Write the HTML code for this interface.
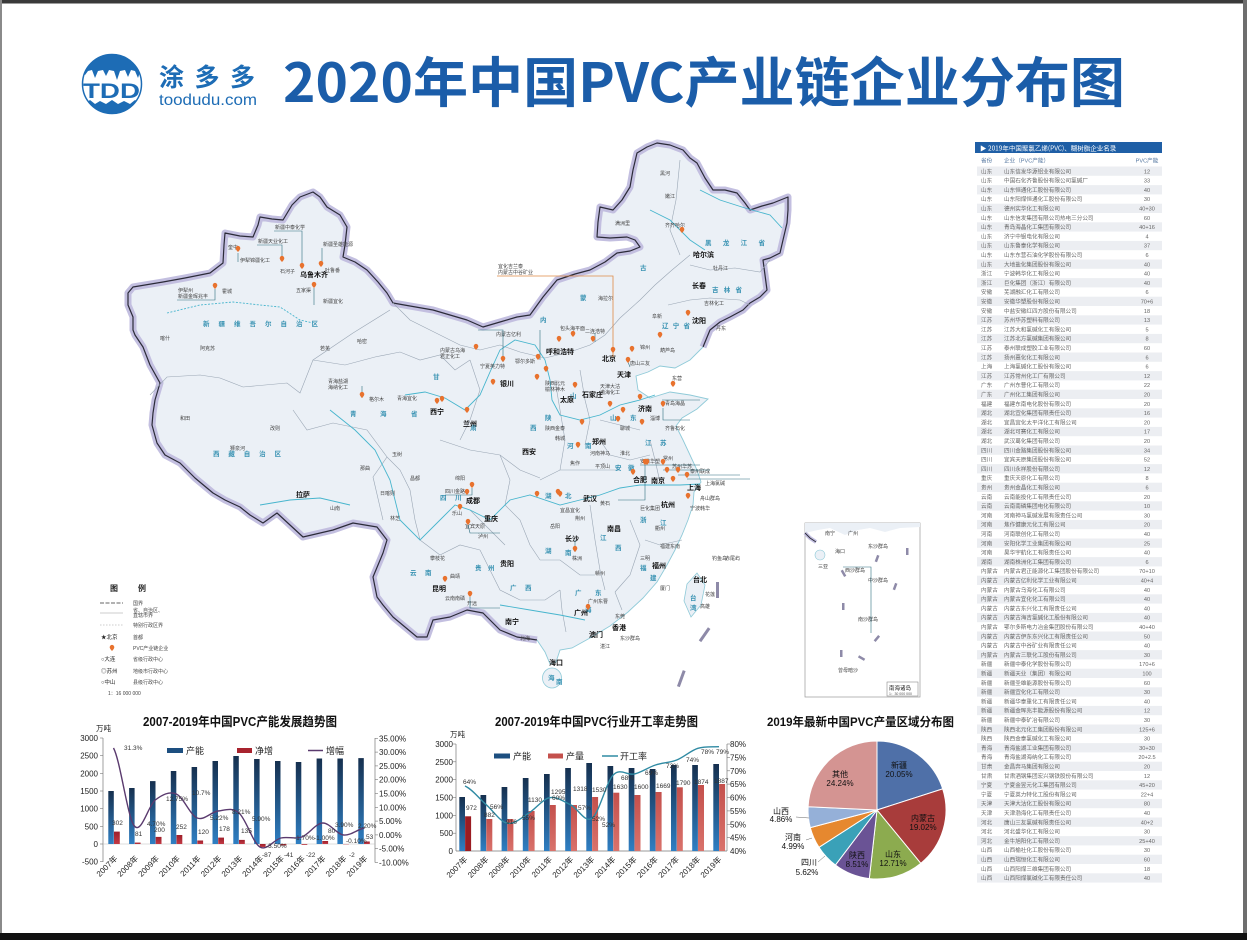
<!DOCTYPE html>
<html><head><meta charset="utf-8"><style>
html,body{margin:0;padding:0;background:#fff;}
body{width:1247px;height:940px;overflow:hidden;}
svg{display:block;}
text{font-family:"Liberation Sans","Noto Sans CJK SC",sans-serif;}
.cj{font-family:"Noto Sans CJK SC","Liberation Sans",sans-serif;}
.ax{font-size:8px;fill:#222;}
.dl{font-size:6.5px;fill:#333;}
.ml{font-size:5px;fill:#444;}
.cap{font-size:7px;fill:#111;font-weight:bold;}
.pv{font-size:6.5px;fill:#3a93b3;font-weight:bold;}
.tb{font-size:5.6px;fill:#666;}
</style></head><body>
<svg width="1247" height="940" viewBox="0 0 1247 940" xmlns="http://www.w3.org/2000/svg">
<defs>
<linearGradient id="gb" x1="0" y1="0" x2="0" y2="1"><stop offset="0" stop-color="#16304f"/><stop offset="1" stop-color="#2f7fc3"/></linearGradient>
<linearGradient id="gr" x1="0" y1="0" x2="0" y2="1"><stop offset="0" stop-color="#9e1f2a"/><stop offset="1" stop-color="#c23a45"/></linearGradient>
<linearGradient id="gs" x1="0" y1="0" x2="0" y2="1"><stop offset="0" stop-color="#c4504c"/><stop offset="1" stop-color="#d9726b"/></linearGradient>
<path id="pin" d="M0,0 C-1.6,-1.8 -2.3,-2.8 -2.3,-3.8 A2.3,2.3 0 1 1 2.3,-3.8 C2.3,-2.8 1.6,-1.8 0,0Z" fill="#e8722e"/>
<clipPath id="lc"><circle cx="112" cy="84" r="30"/></clipPath>
</defs>

<!-- frame -->
<rect x="0" y="0" width="1247" height="940" fill="#fff"/>
<rect x="0" y="0" width="1247" height="3.5" fill="#3a3a3a"/>
<rect x="0" y="0" width="2" height="940" fill="#8a8a8a"/>
<rect x="1243" y="0" width="4" height="940" fill="#6e6e6e"/>
<rect x="0" y="933" width="1247" height="7" fill="#111"/>

<!-- logo -->
<g clip-path="url(#lc)">
<rect x="80" y="52" width="64" height="66" fill="#fff"/>
<path d="M80,52 H144 V70 L140,72 L138,78 L135,71 L131,70 L128,77 L125,70 L120,71 L117,80 L114,71 L109,70 L106,76 L103,70 L98,71 L95,78 L92,70 L88,71 L85,75 L80,70Z" fill="#1d6cb5"/>
<path d="M80,101 L86,103 L90,100 L95,104 L100,101 L106,104 L112,100 L118,104 L124,101 L130,104 L135,100 L140,103 L144,101 V118 H80Z" fill="#1d6cb5"/>
</g>
<circle cx="112" cy="84" r="29.5" fill="none" stroke="#1d6cb5" stroke-width="1.5"/>
<text x="83" y="98" font-size="21" font-weight="bold" fill="#1d6cb5" textLength="57" lengthAdjust="spacingAndGlyphs">TDD</text>
<text x="159" y="86" class="cj" font-size="25" font-weight="bold" fill="#1d6cb5" textLength="96" lengthAdjust="spacing">涂多多</text>
<text x="159" y="105" font-size="15.5" fill="#1d6cb5" textLength="98" lengthAdjust="spacingAndGlyphs">toodudu.com</text>

<!-- title -->
<text x="283" y="102" font-size="54" font-weight="bold" fill="#1b5da9" textLength="842" lengthAdjust="spacingAndGlyphs" style="font-family:'Noto Sans CJK SC','Liberation Sans',sans-serif">2020年中国PVC产业链企业分布图</text>

<!-- ================= MAP ================= -->
<g>
<polygon points="537,640 517,637 500,630 483,613 467,610 450,617 433,620 427,637 417,637 405,627 393,617 383,605 377,597 373,577 378,565 383,553 387,540 377,527 353,523 333,530 303,537 290,525 277,513 263,523 250,515 240,507 225,500 213,493 195,478 180,463 165,455 157,443 152,425 153,413 155,400 160,383 150,365 143,347 135,335 133,330 133,317 128,305 128,293 133,287 163,282 185,278 210,273 223,263 224,245 225,233 240,236 253,237 258,225 260,217 272,219 283,220 292,205 300,197 313,192 320,197 327,207 340,215 347,227 345,245 343,257 355,262 367,270 378,282 387,293 393,303 410,306 433,310 450,315 467,320 483,327 500,322 517,317 530,315 543,297 557,280 575,274 590,270 605,262 617,253 630,251 640,247 635,240 627,237 610,238 597,237 598,222 600,207 613,210 622,200 630,187 633,170 637,153 647,147 657,143 670,145 683,150 690,158 697,163 705,178 713,190 725,190 737,193 745,203 750,210 762,206 773,203 788,197 788,210 787,223 783,240 780,253 770,258 763,260 765,275 767,290 760,297 750,303 743,310 730,317 720,322 710,330 703,347 690,360 675,368 660,366 648,372 636,376 638,390 650,398 670,392 690,395 708,399 697,409 682,418 676,426 683,440 690,455 697,470 701,482 694,492 693,505 688,520 682,535 675,550 667,565 657,582 643,598 628,612 610,626 590,638 572,648 560,650 556,662 550,664 545,652 537,640" fill="#ebf0f6"/>
<polyline fill="none" stroke="#c3bfe0" stroke-width="7" stroke-linejoin="round" points="537,640 517,637 500,630 483,613 467,610 450,617 433,620 427,637 417,637 405,627 393,617 383,605 377,597 373,577 378,565 383,553 387,540 377,527 353,523 333,530 303,537 290,525 277,513 263,523 250,515 240,507 225,500 213,493 195,478 180,463 165,455 157,443 152,425 153,413 155,400 160,383 150,365 143,347 135,335 133,330 133,317 128,305 128,293 133,287 163,282 185,278 210,273 223,263 224,245 225,233 240,236 253,237 258,225 260,217 272,219 283,220 292,205 300,197 313,192 320,197 327,207 340,215 347,227 345,245 343,257 355,262 367,270 378,282 387,293 393,303 410,306 433,310 450,315 467,320 483,327 500,322 517,317 530,315 543,297 557,280 575,274 590,270 605,262 617,253 630,251 640,247 635,240 627,237 610,238 597,237 598,222 600,207 613,210 622,200 630,187 633,170 637,153 647,147 657,143 670,145 683,150 690,158 697,163 705,178 713,190 725,190 737,193 745,203 750,210 762,206 773,203 788,197 788,210 787,223 783,240 780,253 770,258 763,260 765,275 767,290 760,297 750,303 743,310 730,317 720,322 710,330 703,347"/>
<polyline fill="none" stroke="#2b2b38" stroke-width="1.2" stroke-linejoin="round" points="537,640 517,637 500,630 483,613 467,610 450,617 433,620 427,637 417,637 405,627 393,617 383,605 377,597 373,577 378,565 383,553 387,540 377,527 353,523 333,530 303,537 290,525 277,513 263,523 250,515 240,507 225,500 213,493 195,478 180,463 165,455 157,443 152,425 153,413 155,400 160,383 150,365 143,347 135,335 133,330 133,317 128,305 128,293 133,287 163,282 185,278 210,273 223,263 224,245 225,233 240,236 253,237 258,225 260,217 272,219 283,220 292,205 300,197 313,192 320,197 327,207 340,215 347,227 345,245 343,257 355,262 367,270 378,282 387,293 393,303 410,306 433,310 450,315 467,320 483,327 500,322 517,317 530,315 543,297 557,280 575,274 590,270 605,262 617,253 630,251 640,247 635,240 627,237 610,238 597,237 598,222 600,207 613,210 622,200 630,187 633,170 637,153 647,147 657,143 670,145 683,150 690,158 697,163 705,178 713,190 725,190 737,193 745,203 750,210 762,206 773,203 788,197 788,210 787,223 783,240 780,253 770,258 763,260 765,275 767,290 760,297 750,303 743,310 730,317 720,322 710,330 703,347"/>
<polyline fill="none" stroke="#8fcad8" stroke-width="0.9" points="703,347 690,360 675,368 660,366 648,372 636,376 638,390 650,398 670,392 690,395 708,399 697,409 682,418 676,426 683,440 690,455 697,470 701,482 694,492 693,505 688,520 682,535 675,550 667,565 657,582 643,598 628,612 610,626 590,638 572,648 560,650 556,662 550,664 545,652 537,640"/>
<!-- islands -->
<ellipse cx="552" cy="678" rx="9.5" ry="10" fill="#ebf0f6" stroke="#8fcad8" stroke-width="0.8"/>
<polygon points="697,573 705,585 701,605 691,617 684,601 687,584" fill="#ebf0f6" stroke="#8fcad8" stroke-width="0.8"/>
<!-- SCS dashes -->
<g fill="#8e8aa8"><rect x="716" y="582" width="3" height="16"/><rect x="703" y="627" width="3" height="16" transform="rotate(35 705 635)"/><rect x="680" y="670" width="3" height="17" transform="rotate(20 681 678)"/></g>

<!-- provincial borders -->
<g fill="none" stroke="#9aa6b4" stroke-width="0.6">
<polyline points="150,395 167,377 200,375 220,378 243,387 287,383 300,393 313,360 353,333 390,310"/>
<polyline points="293,410 307,430 333,423 367,430 387,457 373,477 383,520"/>
<polyline points="313,360 345,365 375,357 400,352 420,360 440,355 455,370 470,360"/>
<polyline points="393,303 410,320 430,330 460,345 480,350 500,345"/>
<polyline points="500,345 520,352 545,358 570,352 590,345 605,335 620,318 640,300 655,285 672,270 690,255"/>
<polyline points="690,265 710,270 735,268 760,272 770,260"/>
<polyline points="668,305 690,300 710,298 740,300 750,305"/>
<polyline points="680,160 676,200 670,230 680,255"/>
<polyline points="387,457 400,470 410,490 415,520 420,540"/>
<polyline points="440,440 470,450 500,455 520,470 540,478"/>
<polyline points="420,540 440,555 460,545 480,550"/>
<polyline points="480,550 490,570 500,590 520,600 545,600 560,590"/>
<polyline points="560,590 562,610 566,632"/>
<polyline points="590,505 595,540 600,570 605,590"/>
<polyline points="540,480 560,470 590,470 620,470"/>
<polyline points="600,420 620,425 640,430"/>
<polyline points="650,440 655,460 660,482"/>
<polyline points="645,540 660,545 682,540"/>
<polyline points="630,520 640,545 630,575 615,592"/>
<polyline points="555,380 560,410 565,440 560,470"/>
<polyline points="580,370 585,400 590,420 585,445"/>
<polyline points="470,360 480,390 470,420 460,440"/>
<polyline points="500,455 510,480 505,505 520,520 530,545 540,560"/>
<polyline points="540,560 560,560 580,575 595,575"/>
<polyline points="615,592 622,610"/>
<polyline points="600,440 610,455 630,460 650,455"/>
<polyline points="470,510 490,530 505,545"/>
</g>
<!-- rivers -->
<g fill="none" stroke="#47b5cd" stroke-width="0.9">
<polyline points="405,395 425,392 445,398 465,410 480,395 490,372 500,350 515,340 535,345 545,360 550,380 552,400 560,415 580,420 600,415 620,405 640,400 655,395"/>
<polyline points="330,410 355,430 375,450 390,480 400,520 420,540 440,520 455,505 470,510 490,520 510,500 530,495 560,505 580,500 600,495 620,488 640,485 660,485 680,485 700,484"/>
<polyline points="500,605 530,610 560,615 585,620"/>
<polyline points="700,190 720,200 745,208 770,215 782,228"/>
<polyline points="650,210 670,220 690,240 705,250"/>
<polyline points="260,505 290,500 320,498 350,505"/>
<polyline points="167,313 200,305 233,302 260,305 280,307 300,320 313,323" stroke-dasharray="2,1.5"/>
</g>
<!-- province names -->
<g class="pv">
<text x="203" y="326" textLength="115" lengthAdjust="spacing">新疆维吾尔自治区</text>
<text x="213" y="456" textLength="68" lengthAdjust="spacing">西藏自治区</text>
<text x="350" y="416">青</text><text x="380" y="416">海</text><text x="411" y="416">省</text>
<text x="433" y="379">甘</text><text x="470" y="430">肃</text>
<text x="540" y="322">内</text><text x="580" y="300">蒙</text><text x="640" y="270">古</text>
<text x="705" y="245" textLength="60" lengthAdjust="spacing">黑龙江省</text>
<text x="712" y="292" textLength="30" lengthAdjust="spacing">吉林省</text>
<text x="662" y="328" textLength="28" lengthAdjust="spacing">辽宁省</text>
<text x="610" y="420">山</text><text x="630" y="420">东</text>
<text x="567" y="448">河</text><text x="585" y="448">南</text>
<text x="545" y="420">陕</text><text x="530" y="430">西</text>
<text x="570" y="398">山</text>
<text x="440" y="500">四</text><text x="455" y="500">川</text>
<text x="545" y="498">湖</text><text x="565" y="498">北</text>
<text x="545" y="553">湖</text><text x="565" y="555">南</text>
<text x="600" y="540">江</text><text x="615" y="550">西</text>
<text x="640" y="522">浙</text><text x="660" y="525">江</text>
<text x="640" y="570">福</text><text x="650" y="580">建</text>
<text x="575" y="595">广</text><text x="595" y="595">东</text>
<text x="510" y="590">广</text><text x="525" y="590">西</text>
<text x="475" y="570">贵</text><text x="488" y="570">州</text>
<text x="410" y="575">云</text><text x="425" y="575">南</text>
<text x="645" y="445">江</text><text x="660" y="445">苏</text>
<text x="615" y="470">安</text><text x="628" y="470">徽</text>
<text x="690" y="600">台</text><text x="690" y="610">湾</text>
<text x="585" y="612">海</text><text x="548" y="680">海</text><text x="556" y="684">南</text>
</g>
<!-- capitals -->
<g class="cap">
<text x="300" y="277">乌鲁木齐</text>
<text x="296" y="497">拉萨</text>
<text x="430" y="414">西宁</text>
<text x="463" y="426">兰州</text>
<text x="500" y="386">银川</text>
<text x="546" y="354">呼和浩特</text>
<text x="602" y="361">北京</text>
<text x="617" y="377">天津</text>
<text x="582" y="397">石家庄</text>
<text x="592" y="444">郑州</text>
<text x="638" y="411">济南</text>
<text x="522" y="454">西安</text>
<text x="466" y="503">成都</text>
<text x="484" y="521">重庆</text>
<text x="500" y="566">贵阳</text>
<text x="432" y="591">昆明</text>
<text x="505" y="624">南宁</text>
<text x="574" y="615">广州</text>
<text x="565" y="541">长沙</text>
<text x="583" y="501">武汉</text>
<text x="607" y="531">南昌</text>
<text x="633" y="482">合肥</text>
<text x="651" y="483">南京</text>
<text x="687" y="490">上海</text>
<text x="661" y="507">杭州</text>
<text x="652" y="568">福州</text>
<text x="693" y="582">台北</text>
<text x="612" y="630">香港</text>
<text x="589" y="637">澳门</text>
<text x="549" y="665">海口</text>
<text x="692" y="323">沈阳</text>
<text x="692" y="288">长春</text>
<text x="693" y="257">哈尔滨</text>
<text x="560" y="402">太原</text>
</g>
<!-- small labels -->
<g class="ml">
<text x="228" y="249">奎屯</text><text x="240" y="262">伊犁锦疆化工</text>
<text x="275" y="229">新疆中泰化学</text><text x="258" y="243">新疆天业化工</text>
<text x="323" y="246">新疆圣雄能源</text><text x="325" y="272">吐鲁番</text>
<text x="280" y="273">石河子</text><text x="296" y="292">五家渠</text><text x="323" y="303">新疆宜化</text>
<text x="178" y="292">伊犁州</text><text x="178" y="298">新疆金晖兆丰</text><text x="222" y="293">霍城</text>
<text x="357" y="343">哈密</text><text x="328" y="383">青海盐湖</text><text x="328" y="389">海纳化工</text>
<text x="369" y="401">格尔木</text><text x="397" y="400">青海宜化</text>
<text x="440" y="352">内蒙古乌海</text><text x="440" y="358">君正化工</text>
<text x="496" y="336">内蒙古亿利</text><text x="480" y="368">宁夏英力特</text>
<text x="515" y="363">鄂尔多斯</text><text x="560" y="330">包头海平面</text>
<text x="585" y="333">二连浩特</text><text x="630" y="365">唐山三友</text>
<text x="640" y="349">锦州</text><text x="660" y="352">葫芦岛</text>
<text x="545" y="385">陕西北元</text><text x="545" y="391">榆林神木</text>
<text x="600" y="388">天津大沽</text><text x="600" y="394">渤海化工</text>
<text x="620" y="430">聊城</text><text x="650" y="420">淄博</text><text x="665" y="405">青岛海晶</text>
<text x="672" y="380">东营</text><text x="665" y="430">齐鲁石化</text>
<text x="545" y="430">陕西金泰</text><text x="555" y="440">韩城</text>
<text x="590" y="455">河南神马</text><text x="570" y="465">焦作</text><text x="595" y="468">平顶山</text>
<text x="620" y="455">淮北</text><text x="640" y="463">安徽华塑</text>
<text x="663" y="460">常州</text><text x="672" y="468">苏州华苏</text><text x="690" y="473">泰州联成</text>
<text x="705" y="485">上海氯碱</text><text x="700" y="500">舟山群岛</text><text x="690" y="510">宁波韩华</text>
<text x="640" y="510">巨化集团</text><text x="655" y="530">衢州</text>
<text x="560" y="512">宜昌宜化</text><text x="575" y="520">荆州</text><text x="600" y="505">黄石</text>
<text x="550" y="528">岳阳</text><text x="572" y="560">株洲</text><text x="595" y="575">赣州</text>
<text x="455" y="480">绵阳</text><text x="445" y="493">四川金路</text><text x="452" y="515">乐山</text>
<text x="465" y="528">宜宾天原</text><text x="478" y="538">泸州</text>
<text x="430" y="560">攀枝花</text><text x="450" y="578">曲靖</text><text x="445" y="600">云南南磷</text>
<text x="467" y="605">开远</text><text x="520" y="640">北海</text><text x="600" y="648">湛江</text>
<text x="615" y="618">东莞</text><text x="588" y="603">广州东曹</text>
<text x="660" y="590">厦门</text><text x="640" y="560">三明</text><text x="660" y="548">福建东南</text>
<text x="712" y="560">钓鱼岛</text><text x="725" y="560">赤尾屿</text>
<text x="700" y="608">高雄</text><text x="705" y="596">花莲</text>
<text x="620" y="640">东沙群岛</text>
<text x="380" y="495">日喀则</text><text x="330" y="510">山南</text><text x="360" y="470">那曲</text>
<text x="230" y="450">狮泉河</text><text x="270" y="430">改则</text><text x="180" y="420">和田</text>
<text x="160" y="340">喀什</text><text x="200" y="350">阿克苏</text><text x="320" y="350">若羌</text>
<text x="392" y="456">玉树</text><text x="410" y="480">昌都</text><text x="390" y="520">林芝</text>
<text x="665" y="227">齐齐哈尔</text><text x="660" y="175">黑河</text><text x="665" y="198">嫩江</text>
<text x="713" y="270">牡丹江</text><text x="704" y="305">吉林化工</text><text x="716" y="330">丹东</text>
<text x="652" y="318">阜新</text><text x="598" y="300">海拉尔</text><text x="615" y="225">满洲里</text>
<text x="498" y="268">宜化吉兰泰</text><text x="498" y="274">内蒙古中谷矿业</text>
</g>
<!-- leader lines -->
<g fill="none" stroke="#2f6f80" stroke-width="0.6">
<polyline points="274,231 302,231 302,268"/>
<polyline points="257,245 282,245 282,260"/>
<polyline points="322,248 322,265"/>
<polyline points="238,262 238,253"/>
<polyline points="177,300 215,300 215,289"/>
<polyline points="314,288 314,305"/>
<polyline points="362,386 362,398"/>
<polyline points="478,330 503,330 503,362"/>
<polyline points="540,330 540,360"/>
<polyline points="595,333 595,342"/>
<polyline points="630,367 628,362"/>
<polyline points="662,400 700,400"/>
<polyline points="663,408 663,420 690,420"/>
<polyline points="640,465 700,465"/>
<polyline points="663,470 710,470"/>
<polyline points="678,475 740,475"/>
<polyline points="687,479 750,479"/>
<polyline points="445,495 472,495 472,488"/>
<polyline points="468,525 470,533 500,533"/>
<polyline points="470,597 470,608 500,608"/>
<polyline points="588,604 588,610"/>
<polyline points="575,552 575,540"/>
<polyline points="645,465 645,500 618,500"/>
</g>
<polyline fill="none" stroke="#e08a45" stroke-width="0.8" points="497,276 613,276 613,357"/>
<!-- pins -->
<g>
<use href="#pin" x="238" y="252"/><use href="#pin" x="282" y="262"/><use href="#pin" x="302" y="269"/><use href="#pin" x="321" y="267"/><use href="#pin" x="314" y="288"/><use href="#pin" x="215" y="289"/><use href="#pin" x="362" y="398"/><use href="#pin" x="437" y="404"/>
<use href="#pin" x="682" y="233"/><use href="#pin" x="688" y="316"/><use href="#pin" x="660" y="338"/>
<use href="#pin" x="476" y="350"/><use href="#pin" x="503" y="362"/><use href="#pin" x="538" y="360"/><use href="#pin" x="559" y="342"/><use href="#pin" x="573" y="337"/><use href="#pin" x="593" y="342"/><use href="#pin" x="613" y="353"/><use href="#pin" x="628" y="363"/><use href="#pin" x="632" y="352"/>
<use href="#pin" x="493" y="385"/><use href="#pin" x="467" y="413"/><use href="#pin" x="442" y="402"/><use href="#pin" x="546" y="372"/><use href="#pin" x="537" y="380"/><use href="#pin" x="575" y="388"/><use href="#pin" x="610" y="407"/><use href="#pin" x="618" y="422"/><use href="#pin" x="582" y="425"/><use href="#pin" x="623" y="413"/><use href="#pin" x="640" y="400"/><use href="#pin" x="663" y="407"/><use href="#pin" x="673" y="387"/><use href="#pin" x="642" y="425"/><use href="#pin" x="578" y="448"/><use href="#pin" x="647" y="465"/><use href="#pin" x="663" y="465"/><use href="#pin" x="678" y="473"/><use href="#pin" x="633" y="475"/><use href="#pin" x="560" y="497"/><use href="#pin" x="537" y="497"/>
<use href="#pin" x="472" y="488"/><use href="#pin" x="467" y="495"/><use href="#pin" x="460" y="510"/><use href="#pin" x="468" y="525"/><use href="#pin" x="445" y="582"/><use href="#pin" x="470" y="597"/>
<use href="#pin" x="575" y="552"/><use href="#pin" x="558" y="495"/><use href="#pin" x="588" y="610"/><use href="#pin" x="645" y="465"/><use href="#pin" x="667" y="473"/><use href="#pin" x="687" y="478"/><use href="#pin" x="673" y="482"/><use href="#pin" x="688" y="499"/>
</g>

<!-- legend -->
<g>
<text x="110" y="591" class="cj" font-size="8" font-weight="bold" fill="#222">图</text>
<text x="138" y="591" class="cj" font-size="8" font-weight="bold" fill="#222">例</text>
<line x1="100" y1="603" x2="123" y2="603" stroke="#333" stroke-width="0.8" stroke-dasharray="4,1.5"/>
<text x="133" y="605" class="ml">国界</text>
<line x1="100" y1="613" x2="123" y2="613" stroke="#999" stroke-width="0.6"/>
<text x="133" y="612" class="ml">省、自治区、</text><text x="133" y="617" class="ml">直辖市界</text>
<line x1="100" y1="625" x2="123" y2="625" stroke="#999" stroke-width="0.6" stroke-dasharray="1.5,1.5"/>
<text x="133" y="627" class="ml">特别行政区界</text>
<text x="101" y="639" font-size="5.5" fill="#222">★北京</text><text x="133" y="639" class="ml">首都</text>
<use href="#pin" x="112" y="651"/><text x="133" y="650" class="ml">PVC产业链企业</text>
<text x="101" y="661" font-size="5.5" fill="#222">○大连</text><text x="133" y="661" class="ml">省级行政中心</text>
<text x="101" y="673" font-size="5.5" fill="#222">◎苏州</text><text x="133" y="673" class="ml">地级市行政中心</text>
<text x="101" y="684" font-size="5.5" fill="#222">○中山</text><text x="133" y="684" class="ml">县级行政中心</text>
<text x="108" y="695" class="ml">1：16 000 000</text>
</g>

<!-- SCS inset -->
<g>
<rect x="805" y="523" width="115" height="174" fill="#fff" stroke="#999" stroke-width="0.7"/>
<polygon points="805,533 818,530 830,528 845,535 858,530 870,528 885,532 900,528 920,527 920,523 805,523" fill="#ebf0f6"/>
<polyline fill="none" stroke="#c3bfe0" stroke-width="4" points="805,533 810,538 816,542"/>
<polyline fill="none" stroke="#2b2b38" stroke-width="0.9" points="805,533 810,538 816,542"/>
<ellipse cx="820" cy="555" rx="5" ry="5" fill="#ebf0f6" stroke="#8fcad8" stroke-width="0.6"/>
<g class="ml"><text x="825" y="535">南宁</text><text x="848" y="535">广州</text><text x="835" y="553">海口</text><text x="818" y="568">三亚</text><text x="845" y="572">西沙群岛</text><text x="868" y="582">中沙群岛</text><text x="858" y="621">南沙群岛</text><text x="838" y="672">曾母暗沙</text><text x="868" y="548">东沙群岛</text></g>
<polyline fill="none" stroke="#2f6f80" stroke-width="0.6" points="843,567 871,567 871,633"/>
<g fill="#8e8aa8"><rect x="876" y="555" width="2.5" height="7" transform="rotate(20 877 558)"/><rect x="842" y="570" width="2.5" height="7" transform="rotate(-30 843 573)"/><rect x="842" y="603" width="2.5" height="7"/><rect x="906" y="548" width="2.5" height="7"/><rect x="894" y="583" width="2.5" height="7" transform="rotate(20 895 586)"/><rect x="876" y="635" width="2.5" height="7" transform="rotate(40 877 638)"/><rect x="860" y="655" width="2.5" height="7" transform="rotate(-60 861 658)"/><rect x="840" y="650" width="2.5" height="7"/></g>
<rect x="887" y="682" width="31" height="14" fill="#fff" stroke="#777" stroke-width="0.5"/>
<text x="889" y="690" font-size="5.5" fill="#222" class="cj">南海诸岛</text>
<text x="889" y="695" font-size="3.5" fill="#555">1：30 000 000</text>
</g>
</g>

<!-- ================= TABLE ================= -->
<g>
<rect x="975" y="142" width="187" height="11" fill="#1f5fa6"/>
<text x="980" y="150.3" font-size="6.5" fill="#fff" class="cj">▶ 2019年中国聚氯乙烯(PVC)、糊树脂企业名录</text>
<text x="981" y="162.5" font-size="5.6" fill="#5577a0">省份</text>
<text x="1004" y="162.5" font-size="5.6" fill="#5577a0">企业（PVC产能）</text>
<text x="1147" y="162.5" font-size="5.6" fill="#5577a0" text-anchor="middle">PVC产能</text>
<g fill="#eceef2">
<rect x="977" y="166.5" width="185" height="9.3"/><rect x="977" y="185.1" width="185" height="9.3"/><rect x="977" y="203.7" width="185" height="9.3"/><rect x="977" y="222.3" width="185" height="9.3"/><rect x="977" y="240.9" width="185" height="9.3"/><rect x="977" y="259.5" width="185" height="9.3"/><rect x="977" y="278.1" width="185" height="9.3"/><rect x="977" y="296.7" width="185" height="9.3"/><rect x="977" y="315.3" width="185" height="9.3"/><rect x="977" y="333.9" width="185" height="9.3"/><rect x="977" y="352.5" width="185" height="9.3"/><rect x="977" y="371.1" width="185" height="9.3"/><rect x="977" y="389.7" width="185" height="9.3"/><rect x="977" y="408.3" width="185" height="9.3"/><rect x="977" y="426.9" width="185" height="9.3"/><rect x="977" y="445.5" width="185" height="9.3"/><rect x="977" y="464.1" width="185" height="9.3"/><rect x="977" y="482.7" width="185" height="9.3"/><rect x="977" y="501.3" width="185" height="9.3"/><rect x="977" y="519.9" width="185" height="9.3"/><rect x="977" y="538.5" width="185" height="9.3"/><rect x="977" y="557.1" width="185" height="9.3"/><rect x="977" y="575.7" width="185" height="9.3"/><rect x="977" y="594.3" width="185" height="9.3"/><rect x="977" y="612.9" width="185" height="9.3"/><rect x="977" y="631.5" width="185" height="9.3"/><rect x="977" y="650.1" width="185" height="9.3"/><rect x="977" y="668.7" width="185" height="9.3"/><rect x="977" y="687.3" width="185" height="9.3"/><rect x="977" y="705.9" width="185" height="9.3"/><rect x="977" y="724.5" width="185" height="9.3"/><rect x="977" y="743.1" width="185" height="9.3"/><rect x="977" y="761.7" width="185" height="9.3"/><rect x="977" y="780.3" width="185" height="9.3"/><rect x="977" y="798.9" width="185" height="9.3"/><rect x="977" y="817.5" width="185" height="9.3"/><rect x="977" y="836.1" width="185" height="9.3"/><rect x="977" y="854.7" width="185" height="9.3"/><rect x="977" y="873.3" width="185" height="9.3"/>
</g>
<g class="tb">
<text x="981" y="173.3">山东</text><text x="1004" y="173.3">山东信发华源铝业有限公司</text><text x="1147" y="173.3" text-anchor="middle">12</text>
<text x="981" y="182.6">山东</text><text x="1004" y="182.6">中国石化齐鲁股份有限公司氯碱厂</text><text x="1147" y="182.6" text-anchor="middle">33</text>
<text x="981" y="191.9">山东</text><text x="1004" y="191.9">山东恒通化工股份有限公司</text><text x="1147" y="191.9" text-anchor="middle">40</text>
<text x="981" y="201.2">山东</text><text x="1004" y="201.2">山东阳煤恒通化工股份有限公司</text><text x="1147" y="201.2" text-anchor="middle">30</text>
<text x="981" y="210.5">山东</text><text x="1004" y="210.5">德州实华化工有限公司</text><text x="1147" y="210.5" text-anchor="middle">40+30</text>
<text x="981" y="219.8">山东</text><text x="1004" y="219.8">山东信发集团有限公司热电三分公司</text><text x="1147" y="219.8" text-anchor="middle">60</text>
<text x="981" y="229.1">山东</text><text x="1004" y="229.1">青岛海晶化工集团有限公司</text><text x="1147" y="229.1" text-anchor="middle">40+16</text>
<text x="981" y="238.4">山东</text><text x="1004" y="238.4">济宁中银电化有限公司</text><text x="1147" y="238.4" text-anchor="middle">4</text>
<text x="981" y="247.7">山东</text><text x="1004" y="247.7">山东鲁泰化学有限公司</text><text x="1147" y="247.7" text-anchor="middle">37</text>
<text x="981" y="257.0">山东</text><text x="1004" y="257.0">山东东营石油化学股份有限公司</text><text x="1147" y="257.0" text-anchor="middle">6</text>
<text x="981" y="266.3">山东</text><text x="1004" y="266.3">大地盐化集团股份有限公司</text><text x="1147" y="266.3" text-anchor="middle">40</text>
<text x="981" y="275.6">浙江</text><text x="1004" y="275.6">宁波韩华化工有限公司</text><text x="1147" y="275.6" text-anchor="middle">40</text>
<text x="981" y="284.9">浙江</text><text x="1004" y="284.9">巨化集团（浙江）有限公司</text><text x="1147" y="284.9" text-anchor="middle">40</text>
<text x="981" y="294.2">安徽</text><text x="1004" y="294.2">芜湖融汇化工有限公司</text><text x="1147" y="294.2" text-anchor="middle">6</text>
<text x="981" y="303.5">安徽</text><text x="1004" y="303.5">安徽华塑股份有限公司</text><text x="1147" y="303.5" text-anchor="middle">70+6</text>
<text x="981" y="312.8">安徽</text><text x="1004" y="312.8">中盐安徽红四方股份有限公司</text><text x="1147" y="312.8" text-anchor="middle">18</text>
<text x="981" y="322.1">江苏</text><text x="1004" y="322.1">苏州华苏塑料有限公司</text><text x="1147" y="322.1" text-anchor="middle">13</text>
<text x="981" y="331.4">江苏</text><text x="1004" y="331.4">江苏大和氯碱化工有限公司</text><text x="1147" y="331.4" text-anchor="middle">5</text>
<text x="981" y="340.7">江苏</text><text x="1004" y="340.7">江苏北方氯碱集团有限公司</text><text x="1147" y="340.7" text-anchor="middle">8</text>
<text x="981" y="350.0">江苏</text><text x="1004" y="350.0">泰州联成塑胶工业有限公司</text><text x="1147" y="350.0" text-anchor="middle">60</text>
<text x="981" y="359.3">江苏</text><text x="1004" y="359.3">扬州嘉化化工有限公司</text><text x="1147" y="359.3" text-anchor="middle">6</text>
<text x="981" y="368.6">上海</text><text x="1004" y="368.6">上海氯碱化工股份有限公司</text><text x="1147" y="368.6" text-anchor="middle">6</text>
<text x="981" y="377.9">江苏</text><text x="1004" y="377.9">江苏常州化工厂有限公司</text><text x="1147" y="377.9" text-anchor="middle">12</text>
<text x="981" y="387.2">广东</text><text x="1004" y="387.2">广州东曹化工有限公司</text><text x="1147" y="387.2" text-anchor="middle">22</text>
<text x="981" y="396.5">广东</text><text x="1004" y="396.5">广州化工集团有限公司</text><text x="1147" y="396.5" text-anchor="middle">20</text>
<text x="981" y="405.8">福建</text><text x="1004" y="405.8">福建东南电化股份有限公司</text><text x="1147" y="405.8" text-anchor="middle">20</text>
<text x="981" y="415.1">湖北</text><text x="1004" y="415.1">湖北宜化集团有限责任公司</text><text x="1147" y="415.1" text-anchor="middle">16</text>
<text x="981" y="424.4">湖北</text><text x="1004" y="424.4">宜昌宜化太平洋化工有限公司</text><text x="1147" y="424.4" text-anchor="middle">20</text>
<text x="981" y="433.7">湖北</text><text x="1004" y="433.7">湖北可赛化工有限公司</text><text x="1147" y="433.7" text-anchor="middle">17</text>
<text x="981" y="443.0">湖北</text><text x="1004" y="443.0">武汉葛化集团有限公司</text><text x="1147" y="443.0" text-anchor="middle">20</text>
<text x="981" y="452.3">四川</text><text x="1004" y="452.3">四川金路集团股份有限公司</text><text x="1147" y="452.3" text-anchor="middle">34</text>
<text x="981" y="461.6">四川</text><text x="1004" y="461.6">宜宾天原集团股份有限公司</text><text x="1147" y="461.6" text-anchor="middle">52</text>
<text x="981" y="470.9">四川</text><text x="1004" y="470.9">四川永祥股份有限公司</text><text x="1147" y="470.9" text-anchor="middle">12</text>
<text x="981" y="480.2">重庆</text><text x="1004" y="480.2">重庆天原化工有限公司</text><text x="1147" y="480.2" text-anchor="middle">8</text>
<text x="981" y="489.5">贵州</text><text x="1004" y="489.5">贵州金晶化工有限公司</text><text x="1147" y="489.5" text-anchor="middle">6</text>
<text x="981" y="498.8">云南</text><text x="1004" y="498.8">云南能投化工有限责任公司</text><text x="1147" y="498.8" text-anchor="middle">20</text>
<text x="981" y="508.1">云南</text><text x="1004" y="508.1">云南南磷集团电化有限公司</text><text x="1147" y="508.1" text-anchor="middle">10</text>
<text x="981" y="517.4">河南</text><text x="1004" y="517.4">河南神马氯碱发展有限责任公司</text><text x="1147" y="517.4" text-anchor="middle">30</text>
<text x="981" y="526.7">河南</text><text x="1004" y="526.7">焦作健康元化工有限公司</text><text x="1147" y="526.7" text-anchor="middle">20</text>
<text x="981" y="536.0">河南</text><text x="1004" y="536.0">河南联创化工有限公司</text><text x="1147" y="536.0" text-anchor="middle">40</text>
<text x="981" y="545.3">河南</text><text x="1004" y="545.3">安阳化学工业集团有限公司</text><text x="1147" y="545.3" text-anchor="middle">25</text>
<text x="981" y="554.6">河南</text><text x="1004" y="554.6">昊华宇航化工有限责任公司</text><text x="1147" y="554.6" text-anchor="middle">40</text>
<text x="981" y="563.9">湖南</text><text x="1004" y="563.9">湖南株洲化工集团有限公司</text><text x="1147" y="563.9" text-anchor="middle">6</text>
<text x="981" y="573.2">内蒙古</text><text x="1004" y="573.2">内蒙古君正能源化工集团股份有限公司</text><text x="1147" y="573.2" text-anchor="middle">70+10</text>
<text x="981" y="582.5">内蒙古</text><text x="1004" y="582.5">内蒙古亿利化学工业有限公司</text><text x="1147" y="582.5" text-anchor="middle">40+4</text>
<text x="981" y="591.8">内蒙古</text><text x="1004" y="591.8">内蒙古乌海化工有限公司</text><text x="1147" y="591.8" text-anchor="middle">40</text>
<text x="981" y="601.1">内蒙古</text><text x="1004" y="601.1">内蒙古宜化化工有限公司</text><text x="1147" y="601.1" text-anchor="middle">40</text>
<text x="981" y="610.4">内蒙古</text><text x="1004" y="610.4">内蒙古东兴化工有限责任公司</text><text x="1147" y="610.4" text-anchor="middle">40</text>
<text x="981" y="619.7">内蒙古</text><text x="1004" y="619.7">内蒙古海吉氯碱化工股份有限公司</text><text x="1147" y="619.7" text-anchor="middle">40</text>
<text x="981" y="629.0">内蒙古</text><text x="1004" y="629.0">鄂尔多斯电力冶金集团股份有限公司</text><text x="1147" y="629.0" text-anchor="middle">40+40</text>
<text x="981" y="638.3">内蒙古</text><text x="1004" y="638.3">内蒙古伊东东兴化工有限责任公司</text><text x="1147" y="638.3" text-anchor="middle">50</text>
<text x="981" y="647.6">内蒙古</text><text x="1004" y="647.6">内蒙古中谷矿业有限责任公司</text><text x="1147" y="647.6" text-anchor="middle">40</text>
<text x="981" y="656.9">内蒙古</text><text x="1004" y="656.9">内蒙古三联化工股份有限公司</text><text x="1147" y="656.9" text-anchor="middle">30</text>
<text x="981" y="666.2">新疆</text><text x="1004" y="666.2">新疆中泰化学股份有限公司</text><text x="1147" y="666.2" text-anchor="middle">170+6</text>
<text x="981" y="675.5">新疆</text><text x="1004" y="675.5">新疆天业（集团）有限公司</text><text x="1147" y="675.5" text-anchor="middle">100</text>
<text x="981" y="684.8">新疆</text><text x="1004" y="684.8">新疆圣雄能源股份有限公司</text><text x="1147" y="684.8" text-anchor="middle">60</text>
<text x="981" y="694.1">新疆</text><text x="1004" y="694.1">新疆宜化化工有限公司</text><text x="1147" y="694.1" text-anchor="middle">30</text>
<text x="981" y="703.4">新疆</text><text x="1004" y="703.4">新疆华泰重化工有限责任公司</text><text x="1147" y="703.4" text-anchor="middle">40</text>
<text x="981" y="712.7">新疆</text><text x="1004" y="712.7">新疆金晖兆丰能源股份有限公司</text><text x="1147" y="712.7" text-anchor="middle">12</text>
<text x="981" y="722.0">新疆</text><text x="1004" y="722.0">新疆中泰矿冶有限公司</text><text x="1147" y="722.0" text-anchor="middle">30</text>
<text x="981" y="731.3">陕西</text><text x="1004" y="731.3">陕西北元化工集团股份有限公司</text><text x="1147" y="731.3" text-anchor="middle">125+6</text>
<text x="981" y="740.6">陕西</text><text x="1004" y="740.6">陕西金泰氯碱化工有限公司</text><text x="1147" y="740.6" text-anchor="middle">30</text>
<text x="981" y="749.9">青海</text><text x="1004" y="749.9">青海盐湖工业集团有限公司</text><text x="1147" y="749.9" text-anchor="middle">30+30</text>
<text x="981" y="759.2">青海</text><text x="1004" y="759.2">青海盐湖海纳化工有限公司</text><text x="1147" y="759.2" text-anchor="middle">20+2.5</text>
<text x="981" y="768.5">甘肃</text><text x="1004" y="768.5">金昌奔马集团有限公司</text><text x="1147" y="768.5" text-anchor="middle">20</text>
<text x="981" y="777.8">甘肃</text><text x="1004" y="777.8">甘肃酒钢集团宏兴钢铁股份有限公司</text><text x="1147" y="777.8" text-anchor="middle">12</text>
<text x="981" y="787.1">宁夏</text><text x="1004" y="787.1">宁夏金昱元化工集团有限公司</text><text x="1147" y="787.1" text-anchor="middle">45+20</text>
<text x="981" y="796.4">宁夏</text><text x="1004" y="796.4">宁夏英力特化工股份有限公司</text><text x="1147" y="796.4" text-anchor="middle">22+4</text>
<text x="981" y="805.7">天津</text><text x="1004" y="805.7">天津大沽化工股份有限公司</text><text x="1147" y="805.7" text-anchor="middle">80</text>
<text x="981" y="815.0">天津</text><text x="1004" y="815.0">天津渤海化工有限责任公司</text><text x="1147" y="815.0" text-anchor="middle">40</text>
<text x="981" y="824.3">河北</text><text x="1004" y="824.3">唐山三友氯碱有限责任公司</text><text x="1147" y="824.3" text-anchor="middle">40+2</text>
<text x="981" y="833.6">河北</text><text x="1004" y="833.6">河北盛华化工有限公司</text><text x="1147" y="833.6" text-anchor="middle">30</text>
<text x="981" y="842.9">河北</text><text x="1004" y="842.9">金牛旭阳化工有限公司</text><text x="1147" y="842.9" text-anchor="middle">25+40</text>
<text x="981" y="852.2">山西</text><text x="1004" y="852.2">山西榆社化工股份有限公司</text><text x="1147" y="852.2" text-anchor="middle">30</text>
<text x="981" y="861.5">山西</text><text x="1004" y="861.5">山西瑞恒化工有限公司</text><text x="1147" y="861.5" text-anchor="middle">60</text>
<text x="981" y="870.8">山西</text><text x="1004" y="870.8">山西阳煤三维集团有限公司</text><text x="1147" y="870.8" text-anchor="middle">18</text>
<text x="981" y="880.1">山西</text><text x="1004" y="880.1">山西阳煤氯碱化工有限责任公司</text><text x="1147" y="880.1" text-anchor="middle">40</text>
</g>
</g>

<!-- ================= CHART 1 ================= -->
<g>
<text x="143" y="726" font-size="12.5" font-weight="bold" fill="#111" textLength="194" lengthAdjust="spacingAndGlyphs">2007-2019年中国PVC产能发展趋势图</text>
<text x="96" y="731" font-size="7.5" fill="#222">万吨</text>
<line x1="103" y1="738" x2="103" y2="862" stroke="#777" stroke-width="0.7"/>
<line x1="375" y1="738" x2="375" y2="862.5" stroke="#777" stroke-width="0.7"/>
<line x1="103" y1="844" x2="375" y2="844" stroke="#bbb" stroke-width="0.5"/>
<g class="ax" text-anchor="end">
<text x="98" y="741">3000</text><text x="98" y="758.7">2500</text><text x="98" y="776.3">2000</text><text x="98" y="794">1500</text><text x="98" y="811.7">1000</text><text x="98" y="829.3">500</text><text x="98" y="847">0</text><text x="98" y="864.7">-500</text>
</g>
<g class="ax">
<text x="379" y="741.3">35.00%</text><text x="379" y="755.1">30.00%</text><text x="379" y="768.9">25.00%</text><text x="379" y="782.7">20.00%</text><text x="379" y="796.5">15.00%</text><text x="379" y="810.3">10.00%</text><text x="379" y="824.1">5.00%</text><text x="379" y="837.9">0.00%</text><text x="379" y="851.7">-5.00%</text><text x="379" y="865.5">-10.00%</text>
</g>
<g stroke="#777" stroke-width="0.6">
<line x1="100" y1="738" x2="103" y2="738"/><line x1="100" y1="755.7" x2="103" y2="755.7"/><line x1="100" y1="773.3" x2="103" y2="773.3"/><line x1="100" y1="791" x2="103" y2="791"/><line x1="100" y1="808.7" x2="103" y2="808.7"/><line x1="100" y1="826.3" x2="103" y2="826.3"/><line x1="100" y1="844" x2="103" y2="844"/><line x1="100" y1="861.7" x2="103" y2="861.7"/>
<line x1="375" y1="738.3" x2="378" y2="738.3"/><line x1="375" y1="752.1" x2="378" y2="752.1"/><line x1="375" y1="765.9" x2="378" y2="765.9"/><line x1="375" y1="779.7" x2="378" y2="779.7"/><line x1="375" y1="793.5" x2="378" y2="793.5"/><line x1="375" y1="807.3" x2="378" y2="807.3"/><line x1="375" y1="821.1" x2="378" y2="821.1"/><line x1="375" y1="834.9" x2="378" y2="834.9"/><line x1="375" y1="848.7" x2="378" y2="848.7"/><line x1="375" y1="862.5" x2="378" y2="862.5"/>
</g>
<!-- legend -->
<rect x="167" y="748" width="16" height="5" fill="#1d4f80"/><text x="186" y="754" font-size="9" fill="#222">产能</text>
<rect x="237" y="748" width="15" height="5" fill="#a8232e"/><text x="255" y="754" font-size="9" fill="#222">净增</text>
<line x1="308" y1="750.5" x2="323" y2="750.5" stroke="#5a3a6e" stroke-width="1.5"/><text x="326" y="754" font-size="9" fill="#222">增幅</text>
<!-- bars -->
<g fill="url(#gb)">
<rect x="108.3" y="791" width="5.5" height="53"/><rect x="129.1" y="788" width="5.5" height="56"/><rect x="150" y="781.1" width="5.5" height="62.9"/><rect x="170.8" y="771" width="5.5" height="73"/><rect x="191.6" y="767" width="5.5" height="77"/><rect x="212.5" y="761" width="5.5" height="83"/><rect x="233.3" y="756" width="5.5" height="88"/><rect x="254.1" y="759" width="5.5" height="85"/><rect x="275" y="761" width="5.5" height="83"/><rect x="295.8" y="762" width="5.5" height="82"/><rect x="316.6" y="758.5" width="5.5" height="85.5"/><rect x="337.4" y="758.5" width="5.5" height="85.5"/><rect x="358.3" y="758.1" width="5.5" height="85.9"/>
</g>
<g fill="url(#gr)">
<rect x="114" y="831.6" width="5.8" height="12.4"/><rect x="134.8" y="842.6" width="5.8" height="1.4"/><rect x="155.7" y="836.9" width="5.8" height="7.1"/><rect x="176.5" y="835" width="5.8" height="9"/><rect x="197.3" y="840.5" width="5.8" height="3.5"/><rect x="218.2" y="837.6" width="5.8" height="6.4"/><rect x="239" y="839.9" width="5.8" height="4.1"/><rect x="259.8" y="844" width="5.8" height="3.1"/><rect x="280.6" y="844" width="5.8" height="1.4"/><rect x="301.5" y="844" width="5.8" height="0.8"/><rect x="322.3" y="841" width="5.8" height="3"/><rect x="343.1" y="844" width="5.8" height="0.3"/><rect x="364" y="841.5" width="5.8" height="2.5"/>
</g>
<path d="M113.5,748 C120.5,761 127.4,817.3 134.4,826 C141.4,834.7 148.3,805.3 155.3,800 C162.3,794.7 169.3,791 176.3,794 C183.3,797 190.2,815.2 197.2,818 C204.2,820.8 211.1,811.8 218.1,811 C225.1,810.2 232,807 239,813 C246,819 252.9,842.8 259.9,847 C266.9,851.2 273.9,839.7 280.9,838 C287.9,836.3 294.8,839.5 301.8,837 C308.8,834.5 315.7,823.3 322.7,823 C329.7,822.7 336.6,834.2 343.6,835 C350.6,835.8 357.5,829.2 364.5,828" fill="none" stroke="#5a3a6e" stroke-width="1.4"/>
<g class="dl">
<text x="124" y="750">31.3%</text><text x="147" y="826">4.70%</text><text x="166" y="801">12.75%</text><text x="192" y="795">10.7%</text><text x="210" y="820">5.22%</text><text x="232" y="814">8.21%</text><text x="252" y="821">5.90%</text><text x="266" y="848">-3.50%</text><text x="294" y="840">-1.70%</text><text x="314" y="840">-1.00%</text><text x="335" y="827">3.90%</text><text x="346" y="843">-0.10%</text><text x="358" y="828">2.20%</text>
<text x="112" y="825">302</text><text x="135" y="836">81</text><text x="154" y="832">200</text><text x="176" y="829">252</text><text x="198" y="834">120</text><text x="219" y="831">178</text><text x="241" y="833">135</text><text x="262" y="857">-87</text><text x="284" y="857">-41</text><text x="306" y="857">-22</text><text x="328" y="833">80</text><text x="349" y="857">-2</text><text x="366" y="839">53</text>
</g>
<g class="ax" font-size="7.5" text-anchor="end">
<text transform="translate(118,859) rotate(-45)">2007年</text><text transform="translate(138.8,859) rotate(-45)">2008年</text><text transform="translate(159.7,859) rotate(-45)">2009年</text><text transform="translate(180.5,859) rotate(-45)">2010年</text><text transform="translate(201.3,859) rotate(-45)">2011年</text><text transform="translate(222.2,859) rotate(-45)">2012年</text><text transform="translate(243,859) rotate(-45)">2013年</text><text transform="translate(263.8,859) rotate(-45)">2014年</text><text transform="translate(284.6,859) rotate(-45)">2015年</text><text transform="translate(305.5,859) rotate(-45)">2016年</text><text transform="translate(326.3,859) rotate(-45)">2017年</text><text transform="translate(347.1,859) rotate(-45)">2018年</text><text transform="translate(368,859) rotate(-45)">2019年</text>
</g>
</g>

<!-- ================= CHART 2 ================= -->
<g>
<text x="495" y="726" font-size="12.5" font-weight="bold" fill="#111" textLength="203" lengthAdjust="spacingAndGlyphs">2007-2019年中国PVC行业开工率走势图</text>
<text x="450" y="737" font-size="7.5" fill="#222">万吨</text>
<line x1="456" y1="744" x2="456" y2="851" stroke="#777" stroke-width="0.7"/>
<line x1="727" y1="744" x2="727" y2="851" stroke="#777" stroke-width="0.7"/>
<line x1="456" y1="851" x2="727" y2="851" stroke="#777" stroke-width="0.7"/>
<g class="ax" text-anchor="end">
<text x="453" y="747">3000</text><text x="453" y="764.8">2500</text><text x="453" y="782.7">2000</text><text x="453" y="800.5">1500</text><text x="453" y="818.3">1000</text><text x="453" y="836.2">500</text><text x="453" y="854">0</text>
</g>
<g class="ax">
<text x="730" y="747">80%</text><text x="730" y="760.4">75%</text><text x="730" y="773.8">70%</text><text x="730" y="787.1">65%</text><text x="730" y="800.5">60%</text><text x="730" y="813.9">55%</text><text x="730" y="827.3">50%</text><text x="730" y="840.6">45%</text><text x="730" y="854">40%</text>
</g>
<g stroke="#777" stroke-width="0.6">
<line x1="453" y1="744" x2="456" y2="744"/><line x1="453" y1="761.8" x2="456" y2="761.8"/><line x1="453" y1="779.7" x2="456" y2="779.7"/><line x1="453" y1="797.5" x2="456" y2="797.5"/><line x1="453" y1="815.3" x2="456" y2="815.3"/><line x1="453" y1="833.2" x2="456" y2="833.2"/>
<line x1="727" y1="744" x2="730" y2="744"/><line x1="727" y1="757.4" x2="730" y2="757.4"/><line x1="727" y1="770.8" x2="730" y2="770.8"/><line x1="727" y1="784.1" x2="730" y2="784.1"/><line x1="727" y1="797.5" x2="730" y2="797.5"/><line x1="727" y1="810.9" x2="730" y2="810.9"/><line x1="727" y1="824.3" x2="730" y2="824.3"/><line x1="727" y1="837.6" x2="730" y2="837.6"/>
</g>
<rect x="494" y="753.5" width="16" height="5" fill="#1d4f80"/><text x="513" y="759.5" font-size="9" fill="#222">产能</text>
<rect x="548" y="753.5" width="15" height="5" fill="#c4504c"/><text x="566" y="759.5" font-size="9" fill="#222">产量</text>
<line x1="602" y1="756" x2="618" y2="756" stroke="#2f8aa3" stroke-width="1.5"/><text x="620" y="759.5" font-size="9" fill="#222">开工率</text>
<g fill="url(#gb)">
<rect x="459.3" y="797" width="5.7" height="54"/><rect x="480.5" y="795" width="5.7" height="56"/><rect x="501.6" y="787" width="5.7" height="64"/><rect x="522.8" y="778" width="5.7" height="73"/><rect x="544" y="774" width="5.7" height="77"/><rect x="565.2" y="768" width="5.7" height="83"/><rect x="586.3" y="763" width="5.7" height="88"/><rect x="607.5" y="766" width="5.7" height="85"/><rect x="628.7" y="768" width="5.7" height="83"/><rect x="649.8" y="769" width="5.7" height="82"/><rect x="671" y="765" width="5.7" height="86"/><rect x="692.2" y="765" width="5.7" height="86"/><rect x="713.3" y="764" width="5.7" height="87"/>
</g>
<g fill="url(#gs)">
<rect x="465.1" y="816.3" width="6" height="34.7" fill="#9b1c22"/><rect x="486.3" y="819" width="6" height="32"/><rect x="507.4" y="819" width="6" height="32"/><rect x="528.6" y="811" width="6" height="40"/><rect x="549.8" y="805" width="6" height="46"/><rect x="571" y="805" width="6" height="46"/><rect x="592.1" y="797" width="6" height="54"/><rect x="613.3" y="792.7" width="6" height="58.3"/><rect x="634.5" y="795" width="6" height="56"/><rect x="655.6" y="792" width="6" height="59"/><rect x="676.8" y="787.3" width="6" height="63.7"/><rect x="698" y="785" width="6" height="66"/><rect x="719.1" y="784" width="6" height="67"/>
</g>
<path d="M465,786 C472.1,789.1 479.1,798.5 486.2,804.7 C493.3,810.9 500.2,821.9 507.3,823.3 C514.4,824.7 521.4,817.6 528.5,813.3 C535.6,809 542.6,799.1 549.7,797.7 C556.8,796.3 563.8,801.6 570.9,805 C578,808.4 584.9,823.3 592,818.3 C599.1,813.3 606.1,782.4 613.2,775 C620.3,767.6 627.3,775.7 634.4,774 C641.5,772.3 648.4,767.3 655.5,765 C662.6,762.7 669.6,762.8 676.7,760 C683.8,757.2 690.8,750.5 697.9,748.3 C705,746.1 711.9,747 719,746.7" fill="none" stroke="#2f8aa3" stroke-width="1.4"/>
<g class="dl">
<text x="463" y="784">64%</text><text x="466" y="810">972</text><text x="490" y="809">56%</text><text x="484" y="817">882</text><text x="506" y="824">916</text><text x="528" y="802">1130</text><text x="522" y="820">55%</text><text x="551" y="794">1295</text><text x="552" y="800">60%</text><text x="573" y="791">1318</text><text x="578" y="810">57%</text><text x="592" y="792">1530</text><text x="592" y="821">52%</text><text x="602" y="827">52%</text><text x="613" y="789">1630</text><text x="621" y="780">68%</text><text x="634" y="789">1600</text><text x="645" y="775">69%</text><text x="656" y="788">1669</text><text x="666" y="768">72%</text><text x="676" y="785">1790</text><text x="686" y="762">74%</text><text x="694" y="784">1874</text><text x="701" y="754">78%</text><text x="714" y="783">1887</text><text x="716" y="754">79%</text>
</g>
<g class="ax" font-size="7.5" text-anchor="end">
<text transform="translate(468,860) rotate(-45)">2007年</text><text transform="translate(489.2,860) rotate(-45)">2008年</text><text transform="translate(510.3,860) rotate(-45)">2009年</text><text transform="translate(531.5,860) rotate(-45)">2010年</text><text transform="translate(552.7,860) rotate(-45)">2011年</text><text transform="translate(573.9,860) rotate(-45)">2012年</text><text transform="translate(595,860) rotate(-45)">2013年</text><text transform="translate(616.2,860) rotate(-45)">2014年</text><text transform="translate(637.4,860) rotate(-45)">2015年</text><text transform="translate(658.5,860) rotate(-45)">2016年</text><text transform="translate(679.7,860) rotate(-45)">2017年</text><text transform="translate(700.9,860) rotate(-45)">2018年</text><text transform="translate(722,860) rotate(-45)">2019年</text>
</g>
</g>

<!-- ================= PIE ================= -->
<g>
<text x="767" y="726" font-size="12" font-weight="bold" fill="#111" textLength="187" lengthAdjust="spacingAndGlyphs">2019年最新中国PVC产量区域分布图</text>
<g stroke="#fff" stroke-width="1">
<path d="M877,810 L877,741 A69,69 0 0 1 942.69,788.89 Z" fill="#4f70a8"/>
<path d="M877,810 L942.69,788.89 A69,69 0 0 1 920.75,863.36 Z" fill="#a83c3b"/>
<path d="M877,810 L920.75,863.36 A69,69 0 0 1 869.3,878.57 Z" fill="#8cab4f"/>
<path d="M877,810 L869.3,878.57 A69,69 0 0 1 835.42,865.06 Z" fill="#6a5395"/>
<path d="M877,810 L835.42,865.06 A69,69 0 0 1 818.96,847.3 Z" fill="#3aa1b8"/>
<path d="M877,810 L818.96,847.3 A69,69 0 0 1 810.28,827.58 Z" fill="#e6882f"/>
<path d="M877,810 L810.28,827.58 A69,69 0 0 1 808.08,806.7 Z" fill="#95b0d8"/>
<path d="M877,810 L808.08,806.7 A69,69 0 0 1 877,741 Z" fill="#d49492"/>
</g>
<g font-size="8" fill="#111" text-anchor="middle">
<text x="899" y="768">新疆</text><text x="899" y="777">20.05%</text>
<text x="923" y="821">内蒙古</text><text x="923" y="830">19.02%</text>
<text x="893" y="857">山东</text><text x="893" y="866">12.71%</text>
<text x="857" y="858">陕西</text><text x="857" y="867">8.51%</text>
<text x="840" y="777">其他</text><text x="840" y="786">24.24%</text>
<text x="809" y="865">四川</text><text x="807" y="875">5.62%</text>
<text x="793" y="840">河南</text><text x="793" y="849">4.99%</text>
<text x="781" y="814">山西</text><text x="781" y="822">4.86%</text>
</g>
<g stroke="#666" stroke-width="0.5" fill="none">
<line x1="796" y1="817" x2="809" y2="818"/><line x1="806" y1="840" x2="812" y2="838"/><line x1="818" y1="862" x2="825" y2="856"/>
</g>
</g>
</svg>
</body></html>
